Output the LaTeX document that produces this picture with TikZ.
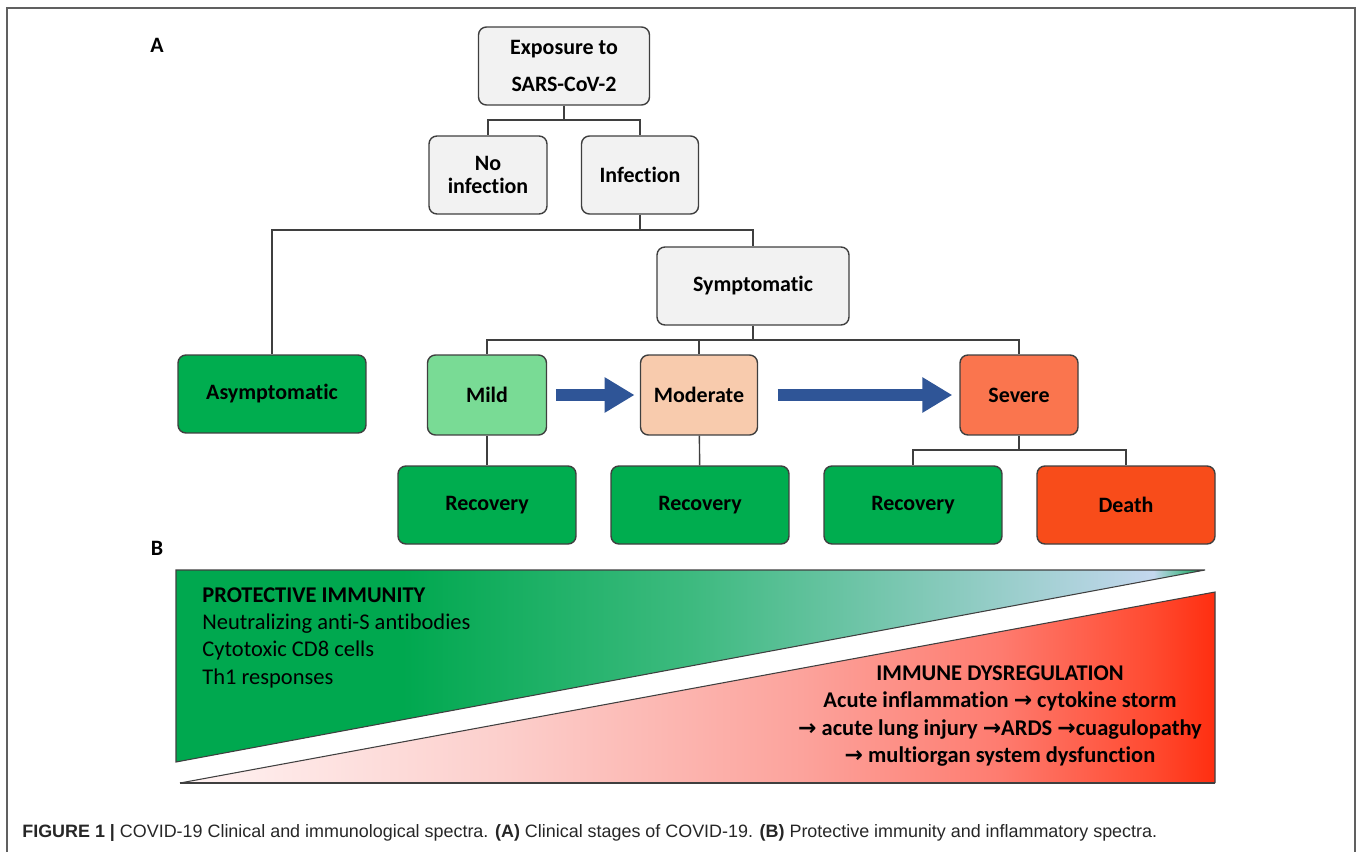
\documentclass[tikz,border=0pt]{standalone}
\usepackage{fontspec}
\setmainfont{Carlito}[Ligatures={NoCommon,NoContextual}]
\newfontfamily\capfont{Liberation Sans}
\newfontfamily\arrowfont{DejaVu Sans}
\usetikzlibrary{arrows.meta}
\usetikzlibrary{positioning}

\definecolor{boxgrey}{HTML}{F2F2F2}
\definecolor{edgegrey}{HTML}{3F3F3F}
\definecolor{recgreen}{HTML}{00AD4F}
\definecolor{mildgreen}{HTML}{79DB95}
\definecolor{modpeach}{HTML}{F8CBAD}
\definecolor{sevred}{HTML}{FA754E}
\definecolor{deathred}{HTML}{F84C1A}
\definecolor{flowblue}{HTML}{2F5597}
\definecolor{protgreen}{HTML}{00A84F}
\definecolor{protmid}{HTML}{3DBA7F}
\definecolor{protblue}{HTML}{C4D7EE}
\definecolor{dysA}{HTML}{FFF3F3}
\definecolor{dysB}{HTML}{FCCFCC}
\definecolor{dysC}{HTML}{FCA39C}
\definecolor{dysD}{HTML}{FE7C70}
\definecolor{dysE}{HTML}{FF4A30}
\definecolor{dysF}{HTML}{FF2E10}

\pgfdeclarehorizontalshading{protshade}{100bp}{color(0bp)=(protgreen); color(25bp)=(protgreen);
  color(36bp)=(protgreen); color(50bp)=(protmid); color(72.5bp)=(protblue); color(75bp)=(protgreen); color(100bp)=(protgreen)}
\pgfdeclarehorizontalshading{dysshade}{100bp}{color(0bp)=(dysA); color(25bp)=(dysA);
  color(40.5bp)=(dysB); color(55bp)=(dysC); color(64.5bp)=(dysD); color(72bp)=(dysE); color(75bp)=(dysF); color(100bp)=(dysF)}

\newcommand{\ra}{{\arrowfont\bfseries\fontsize{12.5}{15}\selectfont →}}

\begin{document}
\begin{tikzpicture}[x=0.02cm,y=-0.02cm]
\tikzstyle{stage} = [rectangle, draw=edgegrey, line width=0.8pt, rounded corners=4.5pt,
inner sep=1pt, align=center, font=\bfseries\fontsize{12.5}{17}\selectfont, minimum height=1.56cm]
\tikzstyle{greybox} = [stage, fill=boxgrey]
\tikzstyle{outcome} = [stage, fill=recgreen, minimum width=3.56cm]
\tikzstyle{link} = [draw=edgegrey, line width=0.8pt]
\tikzstyle{bigarrow} = [draw=flowblue, line width=6.8pt, -{Triangle[length=17pt,width=19pt]}]
\tikzstyle{panel} = [font=\bfseries\fontsize{12.5}{15}\selectfont]
\useasboundingbox (0,0) rectangle (1358,852);
% frame
\draw[gray!75!black, line width=1.2pt] (7,852) -- (7,8) -- (1355,8) -- (1355,852);

% panel A
\node [panel] (labA) at (157,45) {A};
\node [greybox, minimum width=3.42cm] (expo) at (564,66) {Exposure to\\[4.5pt]SARS-CoV-2};
\node [greybox, minimum width=2.36cm] (noinf) at (488,175) {No\\[-4pt]infection};
\node [greybox, minimum width=2.34cm] (inf) at (640,175) {Infection};
\node [greybox, minimum width=3.84cm] (sympt) at (753,286) {Symptomatic};
\node [stage, fill=recgreen, minimum width=3.76cm] (asym) at (272,394) {Asymptomatic};
\node [stage, fill=mildgreen, minimum width=2.38cm, minimum height=1.6cm] (mild) at (487,395) {Mild};
\node [stage, fill=modpeach, minimum width=2.34cm, minimum height=1.6cm] (moder) at (699,395) {Moderate};
\node [stage, fill=sevred, minimum width=2.36cm, minimum height=1.6cm] (sev) at (1019,395) {Severe};
\node [outcome] (rec1) at (487,505) {Recovery};
\node [outcome] (rec2) at (700,505) {Recovery};
\node [outcome] (rec3) at (913,505) {Recovery};
\node [outcome, fill=deathred] (death) at (1126,505) {Death};

\coordinate (s1) at (564,120);
\coordinate (s2) at (640,230);
\coordinate (s3) at (753,340);
\coordinate (s4) at (1019,450);
\draw[link] (expo) -- (s1);
\draw[link] (s1) -| (noinf);
\draw[link] (s1) -| (inf);
\draw[link] (inf) -- (s2);
\draw[link] (s2) -| (asym);
\draw[link] (s2) -| (sympt);
\draw[link] (sympt) -- (s3);
\draw[link] (s3) -| (mild);
\draw[link] (s3) -| (moder);
\draw[link] (s3) -| (sev);
\draw[link] (mild) -- (rec1);
\draw[link] (moder) -- (rec2);
\draw[link] (sev) -- (s4);
\draw[link] (s4) -| (rec3);
\draw[link] (s4) -| (death);
\draw[bigarrow, shorten <=5pt, shorten >=3pt] (mild.east) -- (moder.west);
\draw[bigarrow, shorten <=11pt, shorten >=4pt] (moder.east) -- (sev.west);

% panel B
\node [panel] (labB) at (157,548) {B};
\shade[shading=protshade] (176,570) -- (1205,570) -- (176,762) -- cycle;
\draw[edgegrey, line width=0.6pt] (176,570) -- (1205,570) -- (176,762) -- cycle;
\shade[shading=dysshade] (180,783) -- (1215,592) -- (1215,783) -- cycle;
\draw[edgegrey, line width=0.6pt] (180,783) -- (1215,592) -- (1215,783);
\draw[edgegrey, line width=1.1pt] (180,783) -- (1215,783);

\node [anchor=north west, align=left, inner sep=0pt, font=\fontsize{12.8}{15.6}\selectfont] (prot) at (202,587)
{\textbf{PROTECTIVE IMMUNITY}\\Neutralizing anti-S antibodies\\Cytotoxic CD8 cells\\Th1 responses};
\node [align=center, inner sep=0pt, font=\bfseries\fontsize{12.8}{15.6}\selectfont] (dys) at (1000,716)
{IMMUNE DYSREGULATION\\Acute inflammation \ra\ cytokine storm\\\ra\ acute lung injury \ra ARDS \ra cuagulopathy\\\ra\ multiorgan system dysfunction};

% caption
\node [anchor=west, inner sep=0pt, text=black!85, font=\capfont\fontsize{10.2}{12}\selectfont] (cap) at (22,833)
{\textbf{FIGURE 1 |} COVID-19 Clinical and immunological spectra. \textbf{(A)} Clinical stages of COVID-19. \textbf{(B)} Protective immunity and inflammatory spectra.};
\end{tikzpicture}
\end{document}
